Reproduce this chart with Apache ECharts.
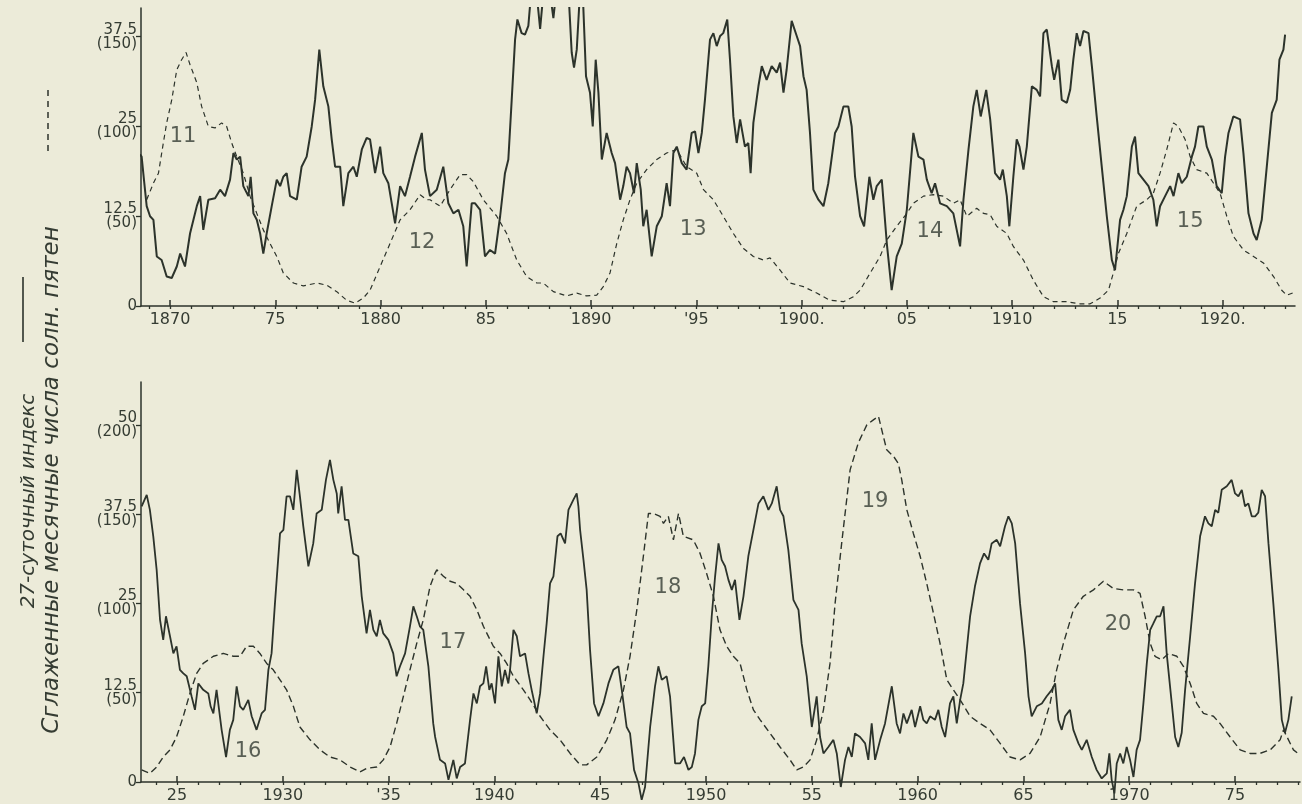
<!DOCTYPE html>
<html><head><meta charset="utf-8">
<script src="https://cdn.jsdelivr.net/npm/echarts@6/dist/echarts.min.js"></script>
<style>html,body{margin:0;padding:0;background:#ECEBD9;}#c{width:1302px;height:804px;}</style>
</head><body><div id="c"></div>
<script>
// ---------- tick labels ----------
const topTickYears = [1870,1875,1880,1885,1890,1895,1900,1905,1910,1915,1920];
const topTickLabels = ['1870','75','1880','85','1890',"'95",'1900.','05','1910','15','1920.'];
const botTickYears = [1925,1930,1935,1940,1945,1950,1955,1960,1965,1970,1975];
const botTickLabels = ['25','1930',"'35",'1940','45','1950','55','1960','65','1970','75'];
const topMinorYears = [1869,1870,1871,1872,1873,1874,1875,1876,1877,1878,1879,1880,1881,1882,1883,1884,1885,1886,1887,1888,1889,1890,1891,1892,1893,1894,1895,1896,1897,1898,1899,1900,1901,1902,1903,1904,1905,1906,1907,1908,1909,1910,1911,1912,1913,1914,1915,1916,1917,1918,1919,1920,1921,1922,1923];
const botMinorYears = [1924,1925,1926,1927,1928,1929,1930,1931,1932,1933,1934,1935,1936,1937,1938,1939,1940,1941,1942,1943,1944,1945,1946,1947,1948,1949,1950,1951,1952,1953,1954,1955,1956,1957,1958,1959,1960,1961,1962,1963,1964,1965,1966,1967,1968,1969,1970,1971,1972,1973,1974,1975,1976,1977,1978];
const topYTicks = [0,12.5,25,37.5];
const topYLabels = ['0','12.5\n(50)','25\n(100)','37.5\n(150)'];
const botYTicks = [0,12.5,25,37.5,50];
const botYLabels = ['0','12.5\n(50)','25\n(100)','37.5\n(150)','50\n(200)'];

// ---------- data: 1868-1923 ----------
// 27-day index (solid)
const topIndex = [[1868.57,21.1],[1868.65,20.8],[1868.76,17.6],[1868.89,13.9],[1869.05,12.5],[1869.21,12.0],[1869.37,6.9],[1869.60,6.4],[1869.84,4.1],[1870.08,3.9],[1870.32,5.5],[1870.48,7.3],[1870.71,5.5],[1870.95,10.1],[1871.27,13.9],[1871.43,15.3],[1871.58,10.6],[1871.82,14.8],[1872.14,15.0],[1872.38,16.2],[1872.61,15.3],[1872.85,17.6],[1873.01,21.3],[1873.17,20.4],[1873.33,20.8],[1873.48,16.7],[1873.72,15.3],[1873.83,18.0],[1873.96,12.9],[1874.12,12.0],[1874.28,10.1],[1874.43,7.3],[1874.59,10.1],[1874.83,13.9],[1875.07,17.6],[1875.23,16.7],[1875.38,18.0],[1875.54,18.5],[1875.70,15.3],[1876.02,14.8],[1876.25,19.4],[1876.49,20.8],[1876.73,25.0],[1876.89,28.7],[1877.09,35.7],[1877.28,30.6],[1877.52,27.8],[1877.68,23.2],[1877.84,19.4],[1878.08,19.4],[1878.23,13.9],[1878.47,18.5],[1878.71,19.4],[1878.87,18.0],[1879.11,21.8],[1879.34,23.4],[1879.50,23.2],[1879.74,18.5],[1879.98,22.2],[1880.13,18.5],[1880.37,17.1],[1880.69,11.5],[1880.93,16.7],[1881.16,15.3],[1881.40,18.0],[1881.64,20.8],[1881.96,24.1],[1882.11,19.0],
[1882.35,15.3],[1882.67,16.2],[1882.98,19.4],[1883.22,14.3],[1883.46,12.9],[1883.70,13.4],[1883.93,11.1],[1884.09,5.5],[1884.33,14.3],[1884.49,14.3],[1884.73,13.4],[1884.96,6.9],[1885.20,7.8],[1885.44,7.3],[1885.68,12.5],[1885.91,18.5],[1886.07,20.4],[1886.23,28.7],[1886.39,37.1],[1886.50,39.9],[1886.70,38.0],[1886.86,37.8],[1887.02,39.0],[1887.12,42.5],[1887.45,42.5],[1887.58,38.6],[1887.70,42.5],[1888.10,42.5],[1888.21,40.1],[1888.30,42.5],[1888.95,42.5],[1889.08,35.3],[1889.19,33.2],[1889.32,35.7],[1889.45,42.5],[1889.62,42.5],[1889.76,32.0],[1889.95,29.7],[1890.08,25.0],[1890.22,34.3],[1890.35,29.7],[1890.51,20.4],[1890.74,24.1],[1890.98,21.3],[1891.14,19.9],[1891.38,14.8],[1891.53,16.7],[1891.69,19.4],[1891.85,18.5],[1892.04,15.7],[1892.17,19.9],[1892.36,16.2],[1892.48,11.1],[1892.64,13.4],[1892.88,6.9],[1893.12,11.1],[1893.36,12.5],[1893.59,17.1],[1893.75,13.9],[1893.91,21.3],[1894.07,22.2],[1894.31,19.9],[1894.54,19.0],[1894.78,24.1],[1894.94,24.3],[1895.10,21.3],[1895.26,24.1],[1895.41,28.7],[1895.65,37.1],[1895.81,38.0],[1895.97,36.2],[1896.13,37.6],[1896.28,38.0],[1896.47,39.9],[1896.60,34.3],[1896.76,26.4],[1896.92,22.7],[1897.08,26.0],[1897.31,22.2],[1897.47,22.7],[1897.58,18.5],[1897.71,25.5],[1897.95,30.6],[1898.11,33.4],[1898.34,31.5],[1898.58,33.4],[1898.82,32.5],[1898.98,33.9],[1899.14,29.7],[1899.29,32.9],[1899.53,39.7],[1899.77,37.6],[1899.93,36.2],[1900.09,32.0],[1900.24,30.1],[1900.40,24.1],[1900.56,16.2],[1900.80,14.8],[1901.04,13.9],[1901.27,17.1],[1901.59,24.1],[1901.75,25.0],[1901.99,27.8],[1902.22,27.8],[1902.38,25.0],[1902.54,18.0],
[1902.78,12.5],[1902.97,11.1],[1903.22,18.0],[1903.41,14.8],[1903.57,16.7],[1903.81,17.6],[1904.05,8.7],[1904.28,2.2],[1904.52,6.9],[1904.76,8.7],[1905.00,13.4],[1905.31,24.1],[1905.55,20.8],[1905.79,20.4],[1905.95,17.6],[1906.18,15.7],[1906.34,17.1],[1906.58,14.3],[1906.90,13.9],[1907.21,12.9],[1907.53,8.3],[1907.69,14.8],[1907.93,21.8],[1908.16,27.8],[1908.32,30.1],[1908.51,26.4],[1908.77,30.1],[1908.96,26.0],[1909.19,18.5],[1909.43,17.6],[1909.56,19.0],[1909.75,15.3],[1909.87,11.1],[1910.06,18.0],[1910.22,23.2],[1910.35,22.2],[1910.54,19.0],[1910.70,22.2],[1910.94,30.6],[1911.17,30.1],[1911.33,29.2],[1911.49,38.0],[1911.65,38.5],[1911.89,33.4],[1912.00,31.5],[1912.20,34.3],[1912.36,28.7],[1912.60,28.3],[1912.76,30.1],[1912.91,34.3],[1913.07,38.0],[1913.23,36.2],[1913.39,38.3],[1913.63,38.0],[1913.79,33.4],[1914.02,26.4],[1914.26,19.4],[1914.50,12.5],[1914.74,6.4],[1914.89,5.0],[1915.13,12.0],[1915.29,13.4],[1915.45,15.3],[1915.69,22.2],[1915.84,23.6],[1916.00,18.5],[1916.24,17.6],[1916.48,16.7],[1916.71,14.8],[1916.87,11.1],[1917.03,13.9],[1917.27,15.3],[1917.51,16.7],[1917.67,15.3],[1917.90,18.5],[1918.06,17.1],[1918.30,18.0],[1918.54,20.8],[1918.69,22.2],[1918.85,25.0],[1919.09,25.0],[1919.25,22.2],[1919.49,20.4],[1919.72,16.7],[1919.96,15.7],[1920.12,20.8],[1920.28,24.1],[1920.51,26.4],[1920.83,26.0],[1920.99,21.3],[1921.23,12.9],[1921.47,10.1],[1921.62,9.2],[1921.86,12.0],[1922.10,19.4],[1922.34,26.9],[1922.57,28.7],[1922.70,34.3],[1922.89,35.7],[1922.97,37.8]];
// smoothed monthly sunspot numbers / 4 (dashed)
const topSunspots = [[1868.89,14.8],[1869.21,17.1],[1869.45,18.5],[1869.68,22.7],[1869.84,25.5],[1870.08,28.7],[1870.32,32.9],[1870.55,34.3],[1870.76,35.3],[1870.95,33.6],[1871.27,31.1],[1871.50,27.8],[1871.82,25.0],[1872.14,24.8],[1872.45,25.5],[1872.69,25.0],[1872.93,22.7],[1873.17,20.8],[1873.48,18.5],[1873.80,15.3],[1874.12,12.9],[1874.43,10.6],[1874.75,8.7],[1875.07,6.9],[1875.38,4.6],[1875.86,3.2],[1876.33,2.8],[1876.97,3.2],[1877.44,2.9],[1877.92,2.0],[1878.39,0.8],[1878.79,0.4],[1879.18,1.1],[1879.50,2.2],[1879.98,5.5],[1880.45,8.7],[1880.93,12.0],[1881.40,13.4],[1881.88,15.5],[1882.19,14.8],
[1882.35,14.8],[1882.83,13.9],[1883.30,16.2],[1883.78,18.3],[1884.09,18.3],[1884.41,17.3],[1884.88,14.8],[1885.52,12.5],[1885.99,10.1],[1886.47,6.4],[1886.94,4.1],[1887.42,3.2],[1887.73,3.2],[1888.21,2.0],[1888.84,1.4],[1889.32,1.8],[1889.79,1.4],[1890.27,1.5],[1890.58,2.7],[1890.90,4.6],[1891.22,8.7],[1891.53,12.0],[1891.85,14.8],[1892.17,17.1],[1892.64,19.0],[1893.12,20.4],[1893.59,21.3],[1894.07,21.8],[1894.54,19.4],[1895.02,18.5],[1895.34,16.2],[1895.81,14.8],[1896.28,12.5],[1896.76,10.1],[1897.24,8.0],[1897.71,6.9],[1898.19,6.4],[1898.50,6.7],[1898.98,5.0],[1899.45,3.2],[1900.09,2.7],[1900.72,1.8],[1901.35,0.8],[1901.99,0.6],[1902.46,1.3],
[1902.78,2.2],[1903.26,4.6],[1903.73,6.9],[1904.05,9.2],[1904.52,11.1],[1905.00,12.9],[1905.31,14.3],[1905.79,15.3],[1906.26,15.5],[1906.74,15.3],[1907.21,14.3],[1907.53,14.8],[1907.85,12.5],[1908.32,13.6],[1908.64,12.9],[1908.96,12.7],[1909.27,11.1],[1909.75,10.1],[1910.06,8.3],[1910.54,6.4],[1911.01,3.6],[1911.49,1.3],[1911.96,0.6],[1912.60,0.6],[1913.23,0.3],[1913.71,0.3],[1914.18,1.1],[1914.58,2.2],[1914.81,4.6],[1915.05,7.3],[1915.45,10.1],[1915.92,13.9],[1916.40,14.8],[1916.71,15.7],[1917.03,18.5],[1917.35,21.8],[1917.67,25.5],[1917.90,25.0],[1918.22,23.2],[1918.46,20.8],[1918.77,19.0],[1919.25,18.5],[1919.57,17.1],[1919.88,15.7],[1920.20,12.5],[1920.51,9.7],[1920.99,7.8],[1921.47,6.9],[1921.94,6.0],[1922.42,4.1],[1922.81,2.2],[1923.05,1.5],[1923.40,1.9]];

// ---------- data: 1923-1978 ----------
const botIndex = [[1923.33,38.6],[1923.57,40.2],[1923.72,38.1],[1923.88,34.4],[1924.04,29.7],[1924.20,22.7],[1924.35,19.9],[1924.48,23.2],[1924.67,20.4],[1924.83,18.0],[1924.98,19.0],[1925.14,15.7],[1925.30,15.2],[1925.46,14.8],[1925.69,12.0],[1925.85,10.1],[1926.01,13.8],[1926.24,12.9],[1926.48,12.4],[1926.59,10.6],[1926.72,9.6],[1926.87,12.9],[1927.11,7.3],[1927.32,3.5],[1927.50,7.3],[1927.66,8.7],[1927.82,13.4],[1927.98,10.6],[1928.13,10.1],[1928.37,11.5],[1928.53,9.2],[1928.76,7.3],[1929.00,9.6],[1929.16,10.1],[1929.32,15.7],[1929.47,18.0],[1929.63,25.0],[1929.87,34.8],[1930.03,35.3],[1930.18,40.0],[1930.34,40.0],[1930.50,38.1],[1930.66,43.7],[1930.81,40.0],[1930.97,35.8],[1931.21,30.2],[1931.44,33.4],[1931.60,37.6],[1931.84,38.1],[1932.04,42.3],[1932.23,45.1],[1932.39,42.3],[1932.55,40.4],[1932.62,37.6],[1932.78,41.4],[1932.94,36.7],[1933.10,36.7],[1933.33,32.0],[1933.57,31.6],[1933.73,26.0],[1933.96,20.8],[1934.12,24.1],[1934.28,21.3],[1934.44,20.4],[1934.59,22.7],[1934.75,20.8],[1934.99,19.9],[1935.22,18.0],[1935.38,14.8],[1935.54,16.2],[1935.78,18.0],[1936.01,21.8],[1936.17,24.6],[1936.33,23.2],[1936.48,21.8],[1936.64,21.3],[1936.88,16.2],[1937.11,8.2],
[1937.20,6.3],[1937.43,3.1],[1937.67,2.6],[1937.83,0.3],[1938.06,3.1],[1938.22,0.5],[1938.38,2.1],[1938.61,2.6],[1938.85,8.7],[1939.01,12.4],[1939.17,11.0],[1939.32,13.4],[1939.48,13.8],[1939.61,16.2],[1939.76,12.9],[1939.87,13.8],[1940.03,11.0],[1940.19,17.6],[1940.35,13.4],[1940.50,15.7],[1940.66,13.8],[1940.74,15.7],[1940.90,21.3],[1941.06,20.4],[1941.21,17.6],[1941.45,18.0],[1941.61,15.2],[1941.76,12.9],[1942.00,9.6],[1942.16,12.4],[1942.32,17.6],[1942.47,22.2],[1942.63,27.8],[1942.79,28.8],[1942.98,34.4],[1943.13,34.8],[1943.34,33.4],[1943.50,38.1],[1943.73,39.5],[1943.89,40.4],[1943.97,38.6],[1944.05,35.3],[1944.21,31.1],[1944.36,26.9],[1944.52,18.5],[1944.71,11.0],[1944.92,9.2],[1945.15,11.0],[1945.39,13.8],[1945.62,15.7],[1945.86,16.2],[1946.02,12.9],[1946.25,7.7],[1946.41,6.8],[1946.60,1.7],[1946.81,-0.2],[1946.96,-2.5],[1947.12,-0.7],[1947.36,7.7],[1947.59,13.4],[1947.75,16.2],[1947.91,14.3],[1948.14,14.8],[1948.30,12.0],[1948.54,2.6],[1948.77,2.6],[1948.96,3.5],[1949.17,1.7],[1949.33,2.1],[1949.48,4.0],[1949.64,8.7],[1949.80,10.6],[1949.96,11.0],[1950.11,16.2],[1950.27,23.2],[1950.43,28.8],[1950.59,33.4],[1950.74,31.1],[1950.90,30.2],[1951.06,28.3],[1951.22,26.9],[1951.37,28.3],[1951.58,22.7],[1951.77,26.0],[1952.00,31.6],[1952.24,35.3],[1952.48,39.0],[1952.71,40.0],[1952.95,38.1],[1953.11,39.0],[1953.34,41.4],[1953.50,38.1],[1953.66,37.2],[1953.89,32.5],[1954.13,25.5],[1954.37,24.1],[1954.52,19.4],[1954.76,14.8],[1955.00,7.7],[1955.23,12.0],[1955.39,6.3],[1955.55,4.0],[1955.78,4.9],[1956.02,5.9],[1956.18,4.0],[1956.37,-0.7],[1956.57,3.1],[1956.73,4.9],[1956.89,3.5],[1957.04,6.8],
[1957.28,6.3],[1957.52,5.4],[1957.67,3.1],[1957.83,8.2],[1957.99,3.1],[1958.23,5.9],[1958.46,8.2],[1958.78,13.4],[1959.01,8.2],[1959.17,6.8],[1959.33,9.6],[1959.49,8.2],[1959.72,10.1],[1959.88,7.7],[1960.12,10.6],[1960.27,8.7],[1960.43,8.2],[1960.59,9.2],[1960.82,8.7],[1960.98,10.1],[1961.14,7.7],[1961.30,6.3],[1961.53,11.0],[1961.69,12.0],[1961.85,8.2],[1962.01,11.5],[1962.16,13.8],[1962.32,18.5],[1962.48,23.2],[1962.71,27.4],[1962.95,30.6],[1963.14,32.0],[1963.34,31.1],[1963.50,33.4],[1963.74,33.9],[1963.90,33.0],[1964.13,35.8],[1964.29,37.2],[1964.45,36.2],[1964.61,33.4],[1964.84,25.0],[1965.08,18.0],[1965.24,12.0],[1965.39,9.2],[1965.63,10.6],[1965.87,11.0],[1966.10,12.0],[1966.34,12.9],[1966.50,13.8],[1966.65,8.7],[1966.81,7.3],[1966.97,9.2],[1967.20,10.1],[1967.36,7.3],[1967.60,5.4],[1967.76,4.5],[1967.99,5.9],[1968.23,3.5],[1968.46,1.7],[1968.70,0.5],[1968.94,1.2],[1969.06,4.0],[1969.17,0.3],[1969.30,-1.6],[1969.41,2.6],[1969.57,4.0],[1969.72,2.6],[1969.88,4.9],[1970.04,3.1],[1970.20,0.7],[1970.35,4.5],[1970.51,5.9],[1970.67,11.0],[1970.83,16.6],[1970.99,21.3],[1971.14,22.2],[1971.30,23.2],[1971.46,23.2],[1971.62,24.6],[1971.77,18.0],[1972.01,11.0],[1972.17,6.3],[1972.32,4.9],[1972.48,6.9],[1972.64,12.9],[1972.88,20.4],[1973.11,27.8],[1973.35,34.4],[1973.58,37.2],[1973.74,36.2],[1973.90,35.8],[1974.06,38.1],[1974.21,37.7],[1974.37,40.9],[1974.61,41.4],[1974.84,42.3],[1975.00,40.4],[1975.16,40.0],[1975.32,40.9],[1975.47,38.6],[1975.63,39.0],[1975.79,37.2],[1975.95,37.2],[1976.10,37.7],[1976.26,40.9],[1976.42,40.0],[1976.58,33.4],[1976.81,25.0],[1977.05,15.7],[1977.21,8.7],[1977.36,6.9],[1977.52,8.7],[1977.68,12.0]];
const botSunspots = [[1923.33,1.7],[1923.72,1.2],[1924.04,2.1],[1924.35,3.5],[1924.67,4.5],[1924.98,6.3],[1925.30,9.2],[1925.61,12.4],[1925.93,15.2],[1926.24,16.6],[1926.72,17.6],[1927.19,18.0],[1927.66,17.6],[1927.98,17.6],[1928.29,19.0],[1928.61,19.0],[1928.92,18.0],[1929.24,16.6],[1929.55,15.7],[1929.87,14.3],[1930.18,12.9],[1930.50,10.6],[1930.81,7.7],[1931.29,5.9],[1931.76,4.5],[1932.23,3.5],[1932.70,3.1],[1933.18,2.1],[1933.65,1.4],[1933.96,1.9],[1934.44,2.1],[1934.75,3.1],[1935.07,4.9],[1935.38,8.2],[1935.70,12.0],[1936.01,15.7],[1936.33,19.4],[1936.64,22.7],[1936.96,27.4],[1937.19,29.2],
[1937.28,29.7],[1937.59,28.8],[1937.91,28.1],[1938.22,27.8],[1938.54,26.9],[1938.85,26.0],[1939.17,24.1],[1939.48,21.8],[1939.95,19.0],[1940.27,18.0],[1940.58,16.6],[1940.90,14.8],[1941.37,12.9],[1941.69,11.5],[1942.16,9.2],[1942.63,7.3],[1943.10,5.9],[1943.58,4.0],[1944.05,2.4],[1944.36,2.4],[1944.84,3.5],[1945.31,5.9],[1945.70,8.7],[1946.10,12.9],[1946.41,17.6],[1946.73,24.1],[1947.04,31.6],[1947.28,37.6],[1947.51,37.6],[1947.83,37.2],[1947.99,36.2],[1948.22,37.2],[1948.46,33.9],[1948.70,37.6],[1948.93,34.4],[1949.40,33.9],[1949.72,32.0],[1950.03,29.2],[1950.35,26.0],[1950.66,21.3],[1950.98,19.0],[1951.29,17.6],[1951.61,16.6],[1951.93,12.9],[1952.24,10.1],[1952.56,8.7],[1953.03,6.8],[1953.50,4.9],[1953.97,3.1],[1954.29,1.7],[1954.60,2.1],[1954.92,3.1],[1955.23,5.9],[1955.55,10.1],[1955.86,16.6],[1956.10,25.0],[1956.41,33.4],[1956.81,43.7],[1957.20,47.5],[1957.60,50.0],
[1957.91,50.7],[1958.15,51.2],[1958.38,48.4],[1958.54,46.5],[1958.86,45.6],[1959.09,44.6],[1959.25,42.3],[1959.49,38.1],[1959.80,34.8],[1960.12,31.6],[1960.43,27.8],[1960.75,23.6],[1961.06,19.4],[1961.38,14.3],[1961.69,12.9],[1962.01,11.5],[1962.48,9.2],[1962.95,8.2],[1963.42,7.3],[1963.90,5.4],[1964.37,3.5],[1964.84,3.1],[1965.31,4.0],[1965.79,6.3],[1966.26,11.0],[1966.57,15.7],[1966.89,19.4],[1967.36,24.1],[1967.83,26.0],[1968.31,26.9],[1968.78,28.1],[1969.25,27.1],[1969.72,26.9],[1970.20,26.9],[1970.51,26.4],[1970.75,23.2],[1970.99,19.4],[1971.22,17.6],[1971.54,17.1],[1971.85,18.0],[1972.25,17.6],[1972.56,16.2],[1972.88,13.8],[1973.19,11.0],[1973.51,9.6],[1973.98,9.2],[1974.29,8.2],[1974.77,6.3],[1975.24,4.5],[1975.71,4.0],[1976.18,4.0],[1976.66,4.5],[1977.13,5.9],[1977.29,7.3],[1977.76,4.5],[1978.07,3.8]];

// cycle numbers: [label, year, value]
const topCycles = [['11',1870.62,23.6],['12',1881.97,8.8],['13',1894.85,10.6],['14',1906.10,10.3],['15',1918.46,11.7]];
const botCycles = [['16',1928.36,4.2],['17',1938.04,19.5],['18',1948.20,27.2],['19',1957.99,39.2],['20',1969.47,22.0]];

// ---------- styling ----------
const INK = '#2c332b';
const TXT = '#353c33';
const FONT = 'DejaVu Sans';

function lookup(vals, labels){
  return function(v){
    for (let i=0;i<vals.length;i++){ if (Math.abs(vals[i]-v)<1e-6) return labels[i]; }
    return '';
  };
}

function xAxes(grid, min, max, majors, minors, labels){
  return [
    {gridIndex:grid, type:'value', min:min, max:max, position:'bottom',
     axisLine:{show:true, onZero:false, lineStyle:{color:INK, width:1.5}},
     axisTick:{show:true, customValues:minors, inside:false, length:3, lineStyle:{color:INK, width:1.3}},
     axisLabel:{show:true, customValues:majors, formatter:lookup(majors, labels), color:TXT, fontSize:16, fontFamily:FONT, margin:6},
     splitLine:{show:false}},
    {gridIndex:grid, type:'value', min:min, max:max, position:'bottom',
     axisLine:{show:false, onZero:false},
     axisTick:{show:true, customValues:majors, inside:true, length:6, lineStyle:{color:INK, width:1.5}},
     axisLabel:{show:false}, splitLine:{show:false}}
  ];
}
function yAxis(grid, max, ticks, labels){
  return {gridIndex:grid, type:'value', min:0, max:max,
    axisLine:{show:true, onZero:false, lineStyle:{color:INK, width:1.5}},
    axisTick:{show:true, customValues:ticks, length:5, lineStyle:{color:INK, width:1.3}},
    axisLabel:{show:true, customValues:ticks, formatter:lookup(ticks, labels), color:TXT, fontSize:15, lineHeight:14, fontFamily:FONT, margin:4},
    splitLine:{show:false}};
}
function cycleSeries(xi, yi, arr){
  return {type:'scatter', xAxisIndex:xi, yAxisIndex:yi, symbol:'circle', symbolSize:1, silent:true,
    itemStyle:{color:'rgba(0,0,0,0)'},
    label:{show:true, position:'inside', formatter:'{b}', fontSize:21, fontFamily:FONT, color:TXT},
    data: arr.map(c=>({name:c[0], value:[c[1], c[2]]}))};
}

const chart = echarts.init(document.getElementById('c'), null, {renderer:'canvas'});
chart.setOption({
  backgroundColor:'#ECEBD9',
  animation:false,
  grid:[
    {left:141, right:7, top:8, height:298},
    {left:141, right:2, top:382, height:400}
  ],
  xAxis: [].concat(
    xAxes(0, 1868.62, 1923.44, topTickYears, topMinorYears, topTickLabels),
    xAxes(1, 1923.30, 1978.07, botTickYears, botMinorYears, botTickLabels)
  ),
  yAxis:[
    yAxis(0, 41.5, topYTicks, topYLabels),
    yAxis(1, 56, botYTicks, botYLabels)
  ],
  series:[
    {type:'line', xAxisIndex:0, yAxisIndex:0, data:topSunspots, symbol:'none', clip:true,
     lineStyle:{color:INK, width:1.2, type:[5,4]}},
    {type:'line', xAxisIndex:0, yAxisIndex:0, data:topIndex, symbol:'none', clip:true, z:3,
     lineStyle:{color:INK, width:2}},
    {type:'line', xAxisIndex:2, yAxisIndex:1, data:botSunspots, symbol:'none', clip:false,
     lineStyle:{color:INK, width:1.4, type:[7,4]}},
    {type:'line', xAxisIndex:2, yAxisIndex:1, data:botIndex, symbol:'none', clip:false, z:3,
     lineStyle:{color:INK, width:1.8}},
    cycleSeries(0, 0, topCycles),
    cycleSeries(2, 1, botCycles)
  ],
  graphic:[
    {type:'text', x:29, y:501, rotation:Math.PI/2,
     style:{text:'27-суточный индекс', font:'italic 20px "DejaVu Sans"', fill:TXT, align:'center', verticalAlign:'middle'}},
    {type:'text', x:52, y:480, rotation:Math.PI/2,
     style:{text:'Сглаженные месячные числа солн. пятен', font:'italic 23px "DejaVu Sans"', fill:TXT, align:'center', verticalAlign:'middle'}},
    {type:'line', shape:{x1:23, y1:277, x2:23, y2:342}, style:{stroke:INK, lineWidth:1.6}},
    {type:'line', shape:{x1:48, y1:90, x2:48, y2:154}, style:{stroke:INK, lineWidth:1.5, lineDash:[6,5]}}
  ]
});
</script>
</body></html>
